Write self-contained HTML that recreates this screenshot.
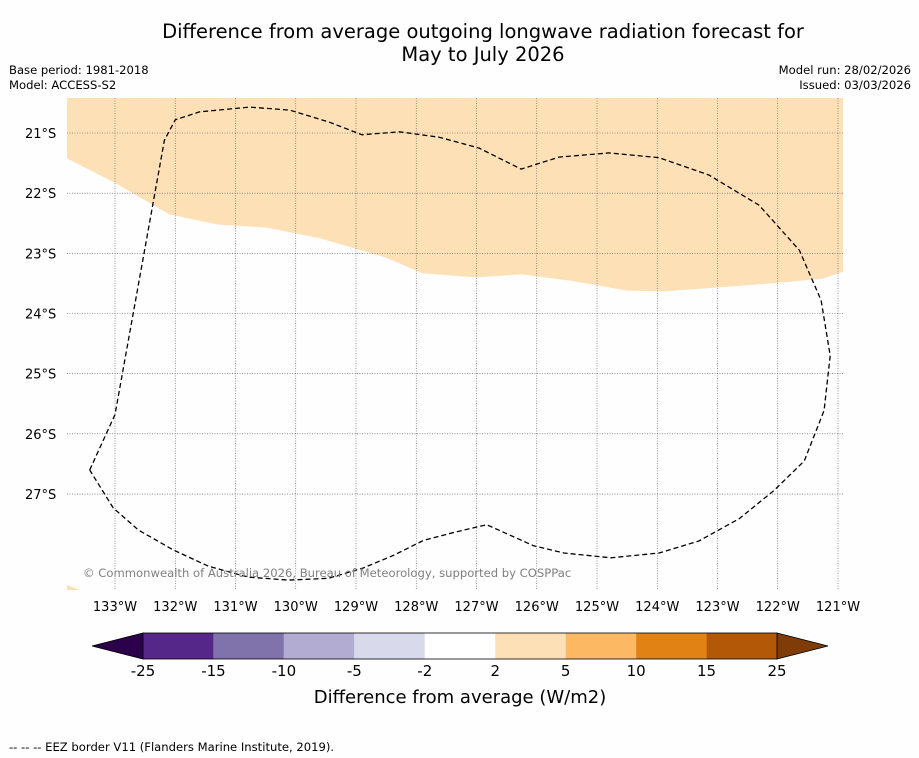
<!DOCTYPE html>
<html><head><meta charset="utf-8">
<style>
body{margin:0;background:#fefefe;font-family:"Liberation Sans","DejaVu Sans",sans-serif;}
#wrap{position:relative;width:919px;height:758px;overflow:hidden;background:#fefefe;}
.t{position:absolute;white-space:nowrap;}
</style></head>
<body>
<div id="wrap">
<div class="t" style="left:0;width:966px;top:20px;text-align:center;font-size:19.5px;line-height:23px;font-family:'DejaVu Sans',sans-serif;">Difference from average outgoing longwave radiation forecast for<br>May to July 2026</div>
<div class="t" style="left:9px;top:63px;font-size:11.6px;line-height:15px;font-family:'DejaVu Sans',sans-serif;">Base period: 1981-2018<br>Model: ACCESS-S2</div>
<div class="t" style="right:8px;top:63px;font-size:11.6px;line-height:15px;text-align:right;font-family:'DejaVu Sans',sans-serif;">Model run: 28/02/2026<br>Issued: 03/03/2026</div>
<svg id="map" width="919" height="758" style="position:absolute;left:0;top:0;font-family:'DejaVu Sans',sans-serif;"></svg>
<div class="t" style="left:9px;top:740px;font-size:11.6px;font-family:'DejaVu Sans',sans-serif;">--  --  -- EEZ border V11 (Flanders Marine Institute, 2019).</div>
</div>
<script>
const lonTicks=[-133,-132,-131,-130,-129,-128,-127,-126,-125,-124,-123,-122,-121];
const latTicks=[-21,-22,-23,-24,-25,-26,-27];
const cbLevels=[-25,-15,-10,-5,-2,2,5,10,15,25];
const cbColors=["#542788","#8073ac","#b2abd2","#d8daeb","#ffffff","#fee0b6","#fdb863","#e08214","#b35806"];
const anomLon=[-133.8,-133,-132.1,-131.3,-130.5,-129.6,-128.5,-127.9,-127,-126.25,-125.4,-124.5,-123.85,-122.9,-122.1,-121.25,-120.9];
const anomLat=[-21.42,-21.83,-22.35,-22.52,-22.57,-22.75,-23.07,-23.33,-23.4,-23.35,-23.46,-23.62,-23.63,-23.56,-23.5,-23.42,-23.3];
const eezLon=[-133.42,-133,-132.18,-132,-131.6,-130.77,-130.1,-129.44,-128.9,-128.28,-127.62,-126.96,-126.26,-125.63,-124.8,-123.97,-123.14,-122.31,-121.64,-121.28,-121.13,-121.23,-121.56,-122.06,-122.64,-123.31,-123.97,-124.77,-125.55,-126.05,-126.83,-127.38,-127.88,-128.38,-128.88,-129.46,-130.12,-130.79,-131.45,-132.03,-132.61,-133.03,-133.42];
const eezLat=[-26.6,-25.68,-21.12,-20.78,-20.65,-20.57,-20.62,-20.82,-21.03,-20.98,-21.07,-21.25,-21.6,-21.4,-21.33,-21.41,-21.7,-22.2,-22.95,-23.78,-24.7,-25.61,-26.45,-26.94,-27.41,-27.78,-27.98,-28.06,-27.98,-27.86,-27.51,-27.64,-27.77,-28.02,-28.23,-28.4,-28.43,-28.38,-28.2,-27.93,-27.6,-27.23,-26.6];
const NS="http://www.w3.org/2000/svg";
const svg=document.getElementById('map');
const X=lon=>115+(lon+133)*60.25;
const Y=lat=>133+(-21-lat)*60.17;
function mk(tag,attrs,parent){const e=document.createElementNS(NS,tag);for(const k in attrs)e.setAttribute(k,attrs[k]);(parent||svg).appendChild(e);return e;}
const L=67,R=843,T=98,B=590;
const clip=mk('clipPath',{id:'c'});mk('rect',{x:L,y:T,width:R-L,height:B-T},clip);
const g=mk('g',{'clip-path':'url(#c)'});
let d=`M${L},${T} L${R},${T} `;
for(let i=anomLon.length-1;i>=0;i--)d+=`L${X(anomLon[i]).toFixed(1)},${Y(anomLat[i]).toFixed(1)} `;
const an=mk('path',{d:d+'Z',fill:'#fee0b6'},g);


mk('path',{d:`M${L},585 L80,${B} L${L},${B}Z`,fill:'#fee0b6'},g);
lonTicks.forEach(v=>{const l=mk('line',{x1:X(v),x2:X(v),y1:T,y2:B,stroke:'#555','stroke-width':0.6,'stroke-dasharray':'1,1.5'},g);

const t=mk('text',{x:X(v),y:611,'font-size':13,'text-anchor':'middle'});t.textContent=Math.abs(v)+'°W';
});
latTicks.forEach(v=>{const l=mk('line',{x1:L,x2:R,y1:Y(v),y2:Y(v),stroke:'#555','stroke-width':0.6,'stroke-dasharray':'1,1.5'},g);

const t=mk('text',{x:25,y:Y(v)+5,'font-size':13});t.textContent=Math.abs(v)+'°S';
});
let e='';eezLon.forEach((v,i)=>{e+=(i?'L':'M')+X(v).toFixed(1)+','+Y(eezLat[i]).toFixed(1)+' ';});
const ez=mk('path',{d:e,fill:'none',stroke:'#000','stroke-width':1.3,'stroke-dasharray':'5,3','stroke-linejoin':'round'},g);

const cp=mk('text',{x:83,y:577,'font-size':11.6,fill:'#808080'});cp.textContent='© Commonwealth of Australia 2026, Bureau of Meteorology, supported by COSPPac';

const cbL=143,cbR=777,cbT=633,cbB=659,n=cbColors.length,w=(cbR-cbL)/n;
const cb=mk('g',{});
mk('polygon',{points:`${cbL},${cbT} 92,646 ${cbL},${cbB}`,fill:'#2d004b',stroke:'#000','stroke-width':0.8},cb);
mk('polygon',{points:`${cbR},${cbT} 828,646 ${cbR},${cbB}`,fill:'#7f3b08',stroke:'#000','stroke-width':0.8},cb);
cbColors.forEach((c,i)=>{const r=mk('rect',{x:cbL+i*w,y:cbT,width:w,height:cbB-cbT,fill:c},cb);
});
mk('rect',{x:cbL,y:cbT,width:cbR-cbL,height:cbB-cbT,fill:'none',stroke:'#000','stroke-width':0.8},cb);
cbLevels.forEach((v,i)=>{const t=mk('text',{x:cbL+i*w,y:676,'font-size':15,'text-anchor':'middle'},cb);t.textContent=v;
});
const ct=mk('text',{x:460,y:703,'font-size':18,'text-anchor':'middle'});ct.textContent='Difference from average (W/m2)';

</script>
</body></html>
